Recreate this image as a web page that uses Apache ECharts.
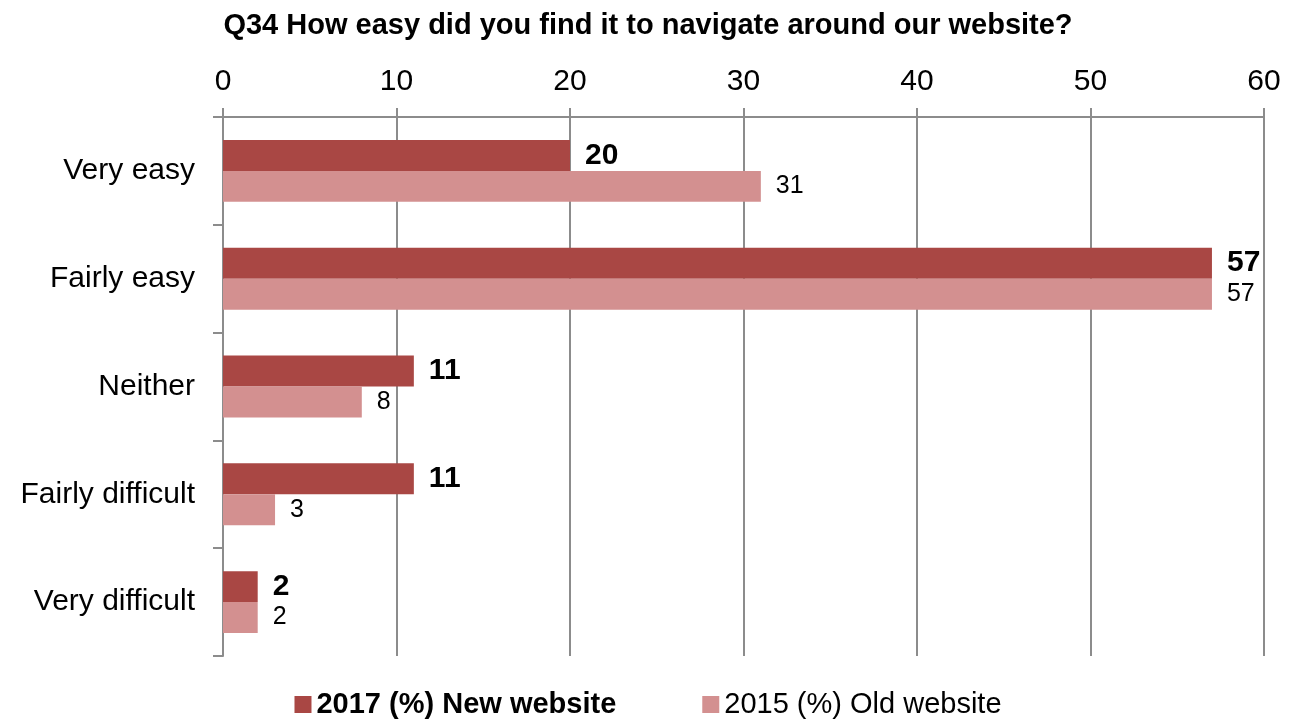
<!DOCTYPE html>
<html>
<head>
<meta charset="utf-8">
<script src="https://cdn.jsdelivr.net/npm/echarts@6/dist/echarts.min.js"></script>
<style>
  html, body { margin: 0; padding: 0; background: #fff; }
  #main { width: 1296px; height: 726px; }
</style>
</head>
<body>
<div id="main"></div>
<script>
const categories = ['Very easy', 'Fairly easy', 'Neither', 'Fairly difficult', 'Very difficult']
const newSite2017 = [20, 57, 11, 11, 2]
const oldSite2015 = [31, 57, 8, 3, 2]
const xTicks = [0, 10, 20, 30, 40, 50, 60]

const font = '"Liberation Sans", Arial, sans-serif'
const gridColor = '#8c8c8c'

const myChart = echarts.init(document.getElementById('main'))

myChart.setOption({
  animation: false,
  textStyle: { fontFamily: font },
  title: {
    text: 'Q34 How easy did you find it to navigate around our website?',
    left: 'center',
    top: 6,
    textStyle: { fontSize: 29, fontWeight: 'bold', color: '#000', fontFamily: font }
  },
  legend: {
    bottom: 2,
    left: 'center',
    itemWidth: 17,
    itemHeight: 17,
    itemGap: 86,
    icon: 'rect',
    textStyle: { fontSize: 29, color: '#000', fontFamily: font },
    data: [
      { name: '2017 (%) New website', textStyle: { fontWeight: 'bold' } },
      { name: '2015 (%) Old website', textStyle: { fontWeight: 'normal' } }
    ]
  },
  grid: {
    left: 223,
    right: 32,
    top: 117,
    bottom: 70
  },
  xAxis: {
    type: 'value',
    position: 'top',
    min: xTicks[0],
    max: xTicks[xTicks.length - 1],
    interval: 10,
    axisLine: { show: true, lineStyle: { color: gridColor, width: 2 } },
    axisTick: { show: true, length: 9, lineStyle: { color: gridColor, width: 2 } },
    axisLabel: { fontSize: 30, color: '#000', margin: 20, fontFamily: font },
    splitLine: { show: true, lineStyle: { color: gridColor, width: 2 } }
  },
  yAxis: {
    type: 'category',
    inverse: true,
    data: categories,
    axisLine: { show: true, lineStyle: { color: gridColor, width: 2 } },
    axisTick: { show: true, length: 10, lineStyle: { color: gridColor, width: 2 } },
    axisLabel: { fontSize: 30, color: '#000', margin: 28, fontFamily: font }
  },
  series: [
    {
      name: '2017 (%) New website',
      type: 'bar',
      data: newSite2017,
      barGap: '0%',
      barCategoryGap: '42.6%',
      itemStyle: { color: '#a94744' },
      label: {
        show: true,
        position: 'right',
        distance: 15,
        fontSize: 30,
        fontWeight: 'bold',
        color: '#000',
        fontFamily: font
      }
    },
    {
      name: '2015 (%) Old website',
      type: 'bar',
      data: oldSite2015,
      barGap: '0%',
      barCategoryGap: '42.6%',
      itemStyle: { color: '#d39090' },
      label: {
        show: true,
        position: 'right',
        distance: 15,
        fontSize: 25,
        color: '#000',
        fontFamily: font
      }
    }
  ]
})
</script>
</body>
</html>
